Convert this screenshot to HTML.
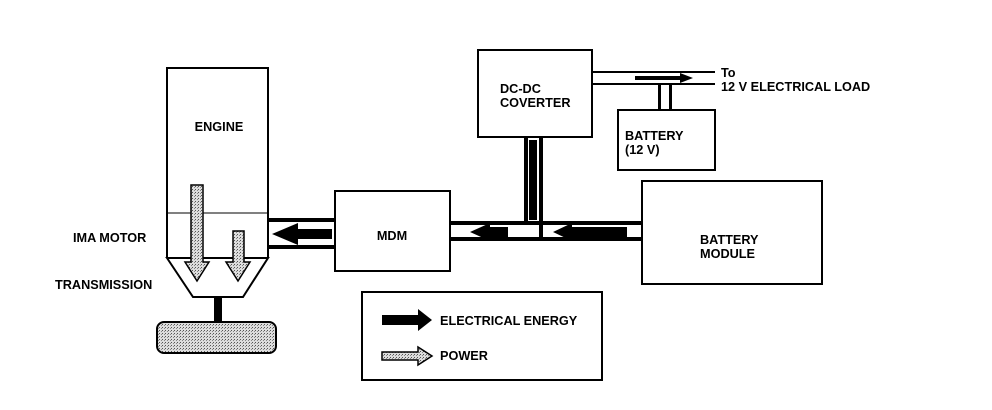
<!DOCTYPE html>
<html><head><style>body{margin:0;background:#fff}svg{display:block}text{font-family:"Liberation Sans",sans-serif;font-weight:bold;font-size:12.7px;fill:#000}</style></head><body>
<svg width="992" height="410" viewBox="0 0 992 410" xmlns="http://www.w3.org/2000/svg">
<defs><pattern id="dot" width="3" height="3" patternUnits="userSpaceOnUse"><rect width="3" height="3" fill="#ddd"/><rect width="1" height="1" fill="#555"/><rect x="2" y="1" width="1" height="1" fill="#888"/></pattern></defs>
<g fill="none" stroke="#000" stroke-width="2">
<path d="M167 258 V68 H268 V258"/>
<line x1="167" y1="213" x2="268" y2="213" stroke-width="1"/>
<path d="M167 258 L193 297 H243 L268 258 Z"/>
<rect x="335" y="191" width="115" height="80"/>
<rect x="478" y="50" width="114" height="87"/>
<rect x="618" y="110" width="97" height="60"/>
<rect x="642" y="181" width="180" height="103"/>
<rect x="362" y="292" width="240" height="88"/>
</g>
<rect x="214" y="297" width="8" height="26" fill="#000"/>
<rect x="157" y="322" width="119" height="31" rx="7" fill="url(#dot)" stroke="#000" stroke-width="2"/>
<g fill="#000">
<rect x="268" y="218" width="67" height="4"/><rect x="268" y="245" width="67" height="4"/>
<rect x="450" y="221" width="192" height="4"/><rect x="450" y="237" width="192" height="4"/>
<rect x="524" y="137" width="4" height="86"/><rect x="539" y="137" width="4" height="104"/>
<rect x="592" y="71" width="123" height="2"/><rect x="592" y="83" width="123" height="2"/>
<rect x="658" y="85" width="3" height="25"/><rect x="669" y="85" width="3" height="25"/>
<polygon points="332,229 298,229 298,223 272,234 298,245 298,239 332,239"/>
<polygon points="508,227 490,227 490,223 470,232 490,241 490,237 508,237"/>
<polygon points="627,227 572,227 572,223 553,232 572,241 572,237 627,237"/>
<rect x="529" y="140" width="8" height="80"/>
<polygon points="635,76 680,76 680,73 693,78 680,83 680,80 635,80"/>
<polygon points="382,315 418,315 418,309 432,320 418,331 418,325 382,325"/>
</g>
<g fill="url(#dot)" stroke="#000" stroke-width="1.5">
<polygon points="191,185 203,185 203,262 209,262 197,281 185,262 191,262"/>
<polygon points="233,231 244,231 244,262 250,262 238,281 226,262 233,262"/>
<polygon points="382,352 418,352 418,347 432,356 418,365 418,360 382,360"/>
</g>
<text x="219" y="131" text-anchor="middle">ENGINE</text>
<text x="73" y="242">IMA MOTOR</text>
<text x="55" y="289">TRANSMISSION</text>
<text x="392" y="240" text-anchor="middle">MDM</text>
<text x="500" y="93">DC-DC</text>
<text x="500" y="107">COVERTER</text>
<text x="625" y="140">BATTERY</text>
<text x="625" y="154">(12 V)</text>
<text x="700" y="244">BATTERY</text>
<text x="700" y="258">MODULE</text>
<text x="721" y="77">To</text>
<text x="721" y="91">12 V ELECTRICAL LOAD</text>
<text x="440" y="325">ELECTRICAL ENERGY</text>
<text x="440" y="360">POWER</text>
</svg>
</body></html>
